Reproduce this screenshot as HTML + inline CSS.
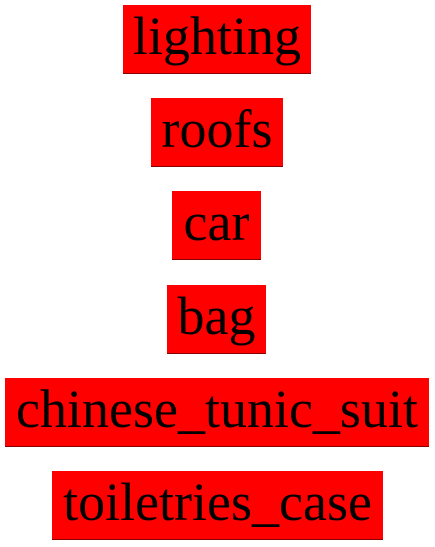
<!DOCTYPE html>
<html><head><meta charset="utf-8"><style>
html,body{margin:0;padding:0;background:#fff;width:435px;height:547px;overflow:hidden}
.b{position:absolute;background:#ff0000;height:69px;display:flex;align-items:center;justify-content:center;
font-family:"Liberation Serif",serif;font-size:54px;line-height:1;color:#000;white-space:nowrap;border-bottom:1px solid #800;box-sizing:border-box;padding-bottom:6px}
</style></head><body>
<div class="b" style="left:123px;top:5px;width:188px">lighting</div>
<div class="b" style="left:151px;top:98px;width:132px">roofs</div>
<div class="b" style="left:172px;top:191px;width:89px">car</div>
<div class="b" style="left:167px;top:285px;width:99px">bag</div>
<div class="b" style="left:5px;top:378px;width:424px">chinese_tunic_suit</div>
<div class="b" style="left:52px;top:471px;width:331px">toiletries_case</div>
</body></html>
